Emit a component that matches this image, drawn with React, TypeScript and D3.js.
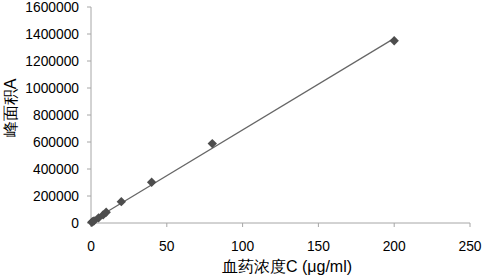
import React from "react";
import * as d3 from "d3";

const concentrations = [0.5, 1, 2, 5, 8, 10, 20, 40, 80, 200];
const peakAreas = [5000, 9000, 16000, 38000, 60000, 80000, 158000, 302000, 588000, 1350000];
const xTicks = [0, 50, 100, 150, 200, 250];
const yTicks = [0, 200000, 400000, 600000, 800000, 1000000, 1200000, 1400000, 1600000];
const xTitle = "血药浓度C (μg/ml)";
const yTitle = "峰面积A";

export default function App() {
  const W = 482, H = 278;
  const left = 91, right = 470, top = 7, bottom = 223;
  const x = d3.scaleLinear().domain([0, 250]).range([left, right]);
  const y = d3.scaleLinear().domain([0, 1600000]).range([bottom, top]);

  const n = concentrations.length;
  const mx = d3.mean(concentrations)!;
  const my = d3.mean(peakAreas)!;
  let sxy = 0, sxx = 0;
  for (let i = 0; i < n; i++) {
    sxy += (concentrations[i] - mx) * (peakAreas[i] - my);
    sxx += (concentrations[i] - mx) ** 2;
  }
  const slope = sxy / sxx;
  const intercept = my - slope * mx;
  const x0 = d3.min(concentrations)!, x1 = d3.max(concentrations)!;
  const line = d3.line<number>().x((d) => x(d)).y((d) => y(slope * d + intercept));
  const diamond = d3.symbol().type(d3.symbolDiamond2).size(56)();

  const font = "'Liberation Sans', Arial, sans-serif";
  const axisColor = "#a6a6a6";

  return (
    <svg width={W} height={H} style={{ position: "absolute", left: 0, top: 0 }} fontFamily={font}>
      <rect width={W} height={H} fill="#fff" />
      <line x1={left} x2={left} y1={top} y2={bottom} stroke={axisColor} strokeWidth={1} />
      <line x1={left} x2={right} y1={bottom} y2={bottom} stroke={axisColor} strokeWidth={1} />
      {yTicks.map((t) => (
        <g key={"y" + t}>
          <line x1={left - 4} x2={left} y1={y(t)} y2={y(t)} stroke={axisColor} />
          <text x={left - 12} y={y(t)} dy="0.35em" textAnchor="end" fontSize={13.8} fill="#000">
            {t}
          </text>
        </g>
      ))}
      {xTicks.map((t) => (
        <g key={"x" + t}>
          <line x1={x(t)} x2={x(t)} y1={bottom} y2={bottom + 4} stroke={axisColor} />
          <text x={x(t)} y={251} textAnchor="middle" fontSize={13.8} fill="#000">
            {t}
          </text>
        </g>
      ))}
      <path d={line([x0, x1]) || ""} stroke="#666" strokeWidth={1.2} fill="none" />
      {concentrations.map((c, i) => (
        <path key={i} d={diamond || ""} transform={`translate(${x(c)},${y(peakAreas[i])})`} fill="#4d4d4d" />
      ))}
      <text x={287} y={272} textAnchor="middle" fontSize={16} fill="#000">
        {xTitle}
      </text>
      <text
        transform={`translate(16,108) rotate(-90)`}
        textAnchor="middle"
        fontSize={16}
        fill="#000"
      >
        {yTitle}
      </text>
    </svg>
  );
}
